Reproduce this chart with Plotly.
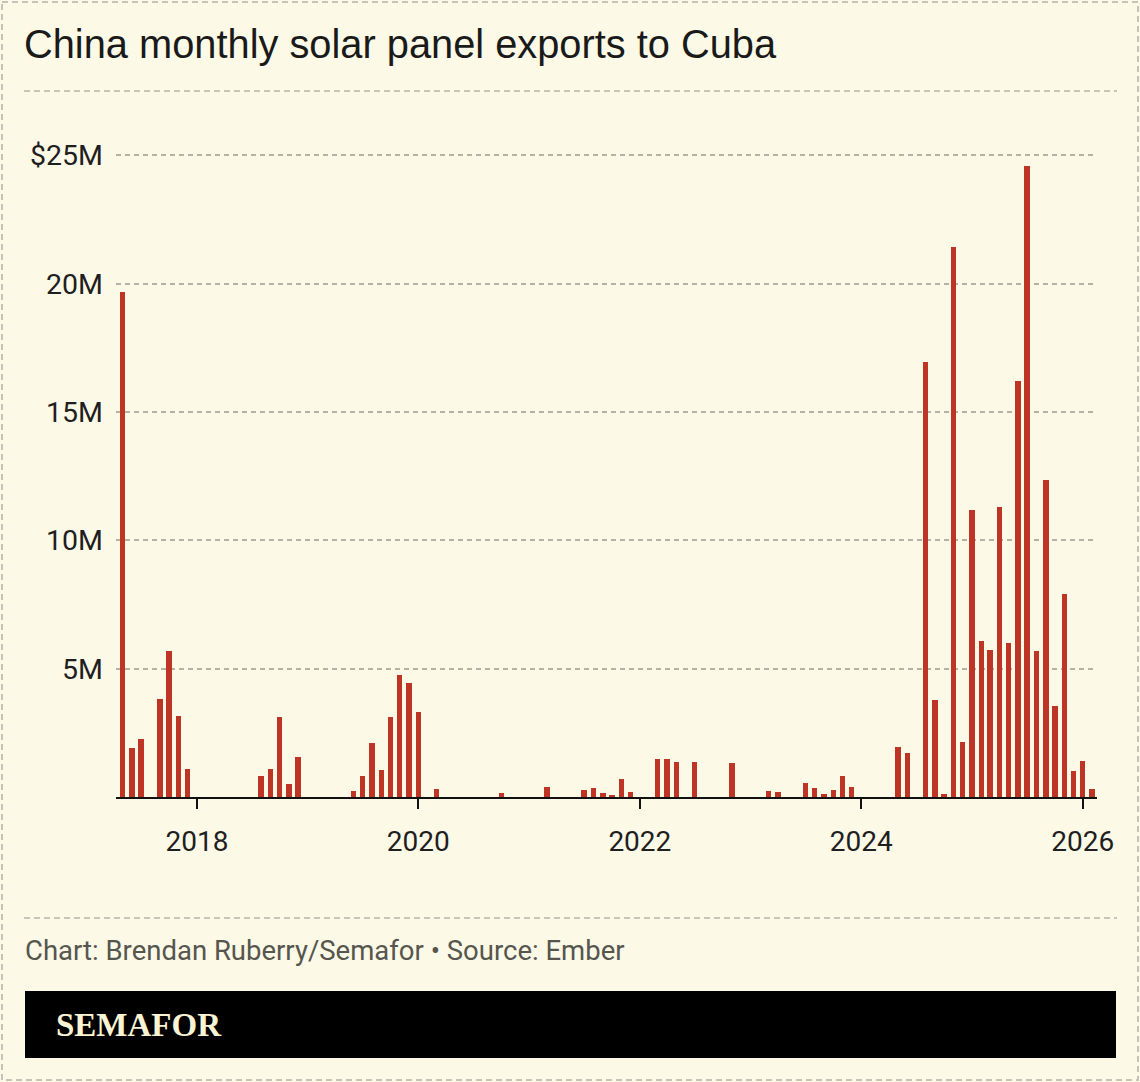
import plotly.graph_objects as go

# ---------------- data ----------------
months = [
    "2017-05", "2017-06", "2017-07", "2017-09", "2017-10", "2017-11", "2017-12",
    "2018-08", "2018-09", "2018-10", "2018-11", "2018-12",
    "2019-06", "2019-07", "2019-08", "2019-09", "2019-10", "2019-11", "2019-12",
    "2020-01", "2020-03", "2020-10",
    "2021-03", "2021-07", "2021-08", "2021-09", "2021-10", "2021-11", "2021-12",
    "2022-03", "2022-04", "2022-05", "2022-07", "2022-11",
    "2023-03", "2023-04", "2023-07", "2023-08", "2023-09", "2023-10", "2023-11", "2023-12",
    "2024-05", "2024-06", "2024-08", "2024-09", "2024-10", "2024-11", "2024-12",
    "2025-01", "2025-02", "2025-03", "2025-04", "2025-05", "2025-06", "2025-07",
    "2025-08", "2025-09", "2025-10", "2025-11", "2025-12",
    "2026-01", "2026-02",
]
exports_musd = [
    19.66, 1.90, 2.24, 3.82, 5.67, 3.15, 1.10,
    0.80, 1.10, 3.10, 0.50, 1.56,
    0.25, 0.80, 2.09, 1.05, 3.10, 4.74, 4.45,
    3.31, 0.30, 0.17,
    0.40, 0.27, 0.35, 0.14, 0.07, 0.69, 0.20,
    1.48, 1.48, 1.36, 1.36, 1.32,
    0.24, 0.20, 0.54, 0.36, 0.12, 0.29, 0.82, 0.40,
    1.94, 1.73, 16.95, 3.77, 0.11, 21.44, 2.15,
    11.18, 6.07, 5.73, 11.31, 6.01, 16.21, 24.58,
    5.70, 12.36, 3.56, 7.89, 1.03,
    1.39, 0.33,
]
y_tick_values = [5e6, 10e6, 15e6, 20e6, 25e6]
y_tick_labels = ["5M", "10M", "15M", "20M", "$25M"]
x_tick_values = ["2018-01-01", "2020-01-01", "2022-01-01", "2024-01-01", "2026-01-01"]
x_tick_labels = ["2018", "2020", "2022", "2024", "2026"]

title_text = "China monthly solar panel exports to Cuba"
credit_text = "Chart: Brendan Ruberry/Semafor \u2022 Source: Ember"
brand_text = "SEMAFOR"

# ---------------- style ----------------
W, H = 1140, 1082
BG = "#FCF9E7"
BAR = "#BE3526"
GRID = "#B5B3A7"
L, R, T, B = 116, 43, 148, 285
PLOT_W = W - L - R
PLOT_H = H - T - B
BAR_WIDTH_MS = 18 * 86400000

x_dates = [m + "-01" for m in months]
y_vals = [v * 1e6 for v in exports_musd]


def px_x(px):
    return (px - L) / PLOT_W


def px_y(py):
    return (H - B - py) / PLOT_H


fig = go.Figure()
fig.add_trace(go.Bar(
    x=x_dates, y=y_vals, width=BAR_WIDTH_MS,
    marker=dict(color=BAR, line=dict(width=0)),
    hoverinfo="skip",
))

fig.update_layout(
    width=W, height=H,
    paper_bgcolor=BG, plot_bgcolor=BG,
    margin=dict(l=L, r=R, t=T, b=B, pad=0),
    showlegend=False,
    font=dict(family="Roboto, Arial, sans-serif", color="#1f1f1f"),
    title=dict(
        text=title_text, xref="container", yref="container",
        x=24 / W, y=1 - 44 / H, xanchor="left", yanchor="middle",
        font=dict(family="Liberation Sans, Arial, sans-serif", size=39.8, color="#1a1a1a"),
    ),
    xaxis=dict(
        type="date",
        range=["2017-04-09", "2026-02-17"],
        tickmode="array", tickvals=x_tick_values, ticktext=x_tick_labels,
        ticks="outside", ticklen=10, tickwidth=2, tickcolor="#111111",
        showline=True, linecolor="#111111", linewidth=2,
        showgrid=False, zeroline=False,
        tickfont=dict(size=28, color="#1f1f1f"),
        ticklabelstandoff=8,
        fixedrange=True,
    ),
    yaxis=dict(
        range=[0, 25.28e6],
        tickmode="array", tickvals=y_tick_values, ticktext=y_tick_labels,
        ticks="", showline=False, zeroline=False,
        showgrid=True, gridcolor=GRID, gridwidth=1.5, griddash="5px,4px",
        tickfont=dict(size=28.5, color="#1f1f1f"),
        ticklabelstandoff=12,
        fixedrange=True,
    ),
    bargap=0,
)

shapes = []
# outer dashed border
shapes.append(dict(type="rect", xref="paper", yref="paper",
                   x0=px_x(2), x1=px_x(W - 2), y0=px_y(2), y1=px_y(H - 2),
                   line=dict(color="#C6C4B9", width=2, dash="6px,4px"),
                   fillcolor="rgba(0,0,0,0)", layer="above"))
# dividers
for yy in (91, 918):
    shapes.append(dict(type="line", xref="paper", yref="paper",
                       x0=px_x(24), x1=px_x(1117), y0=px_y(yy), y1=px_y(yy),
                       line=dict(color="#B7B5A9", width=1.5, dash="6px,4px")))
# black brand box
shapes.append(dict(type="rect", xref="paper", yref="paper",
                   x0=px_x(25), x1=px_x(1116), y0=px_y(991), y1=px_y(1058),
                   line=dict(width=0), fillcolor="#000000", layer="above"))
fig.update_layout(shapes=shapes)

fig.add_annotation(
    text=credit_text, xref="paper", yref="paper",
    x=px_x(23), y=px_y(950), xanchor="left", yanchor="middle",
    showarrow=False, font=dict(family="Roboto, Arial, sans-serif", size=27.5, color="#56564F"),
)
fig.add_annotation(
    text="<b>" + brand_text + "</b>", xref="paper", yref="paper",
    x=px_x(54), y=px_y(1025), xanchor="left", yanchor="middle",
    showarrow=False, font=dict(family="Liberation Serif, DejaVu Serif, serif", size=33, color="#FBF4D4"),
)

fig.write_html(
    "out.html",
    config={"displayModeBar": False},
    post_script="document.body.style.margin='0';document.body.style.padding='0';",
)
